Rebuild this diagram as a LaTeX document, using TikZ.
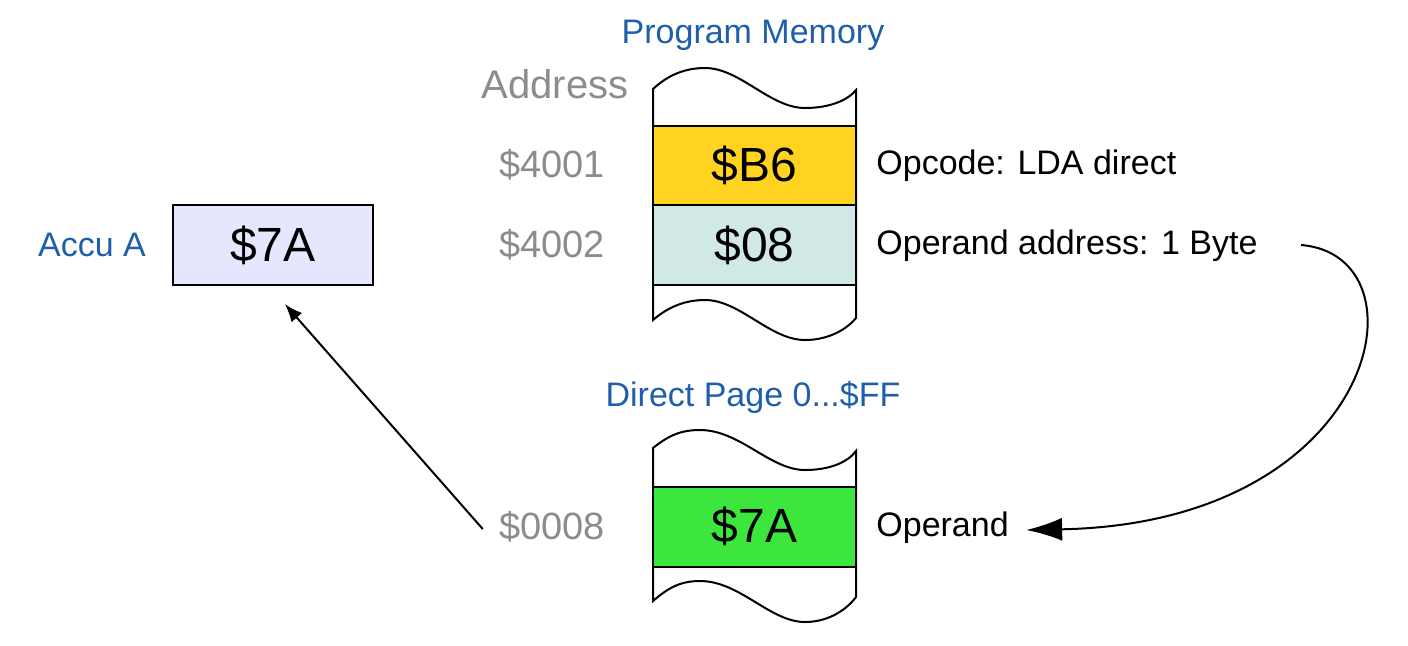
\documentclass[tikz,border=0pt]{standalone}
\usepackage{fontspec}
\setmainfont{Liberation Sans}
\usetikzlibrary{arrows.meta, calc, positioning}
\definecolor{titleblue}{HTML}{1F5FAA}
\definecolor{addrgray}{HTML}{8C8C8C}
\definecolor{opyellow}{HTML}{FFD320}
\definecolor{opteal}{HTML}{D0E8E6}
\definecolor{valgreen}{HTML}{3CE63C}
\definecolor{accufill}{HTML}{E6E6FF}
\tikzstyle{memcol} = [draw=black, line width=1pt, fill=white]
\tikzstyle{cell} = [rectangle, draw=black, line width=1pt, minimum width=101.5pt, minimum height=40pt, text centered, font=\fontsize{24}{28}\selectfont]
\tikzstyle{title} = [text=titleblue, inner sep=3pt, font=\fontsize{17}{20}\selectfont]
\tikzstyle{addr} = [text=addrgray, inner sep=3pt, font=\fontsize{19}{22}\selectfont]
\tikzstyle{desc} = [anchor=west, inner sep=3pt, font=\fontsize{17}{20}\selectfont]
\tikzstyle{arrow} = [line width=1pt, -{Latex[length=9pt, width=7pt]}]
\tikzstyle{bigarrow} = [line width=1pt, -{Latex[length=18pt, width=11.5pt]}]

\begin{document}
\begin{tikzpicture}[x=0.5pt, y=-0.5pt]
	\useasboundingbox (0,0) rectangle (1408,645);
	% memory columns with wavy ends
	\draw [memcol] (653,89) .. controls (668,75) and (685,68) .. (705,68) .. controls (740,68) and (770,108) .. (805,108) .. controls (830,108) and (848,100) .. (856,90)
		-- (856,318) .. controls (848,328) and (830,340) .. (805,340) .. controls (770,340) and (740,300) .. (705,300) .. controls (685,300) and (668,307) .. (653,320) -- cycle;
	\draw [memcol] (653,448) .. controls (668,436) and (680,430) .. (700,430) .. controls (740,430) and (770,470) .. (805,470) .. controls (830,470) and (848,462) .. (856,451)
		-- (856,597) .. controls (848,608) and (830,622) .. (805,622) .. controls (770,622) and (740,581) .. (700,581) .. controls (680,581) and (668,588) .. (653,601) -- cycle;
	% cells
	\node (CellOpcode) [cell, fill=opyellow] at (754.5,165.5) {\$B6};
	\node (CellAddr) [cell, fill=opteal] at (754.5,245) {\$08};
	\node (CellOperand) [cell, fill=valgreen] at (754.5,526.5) {\$7A};
	\node (Accu) [cell, fill=accufill, minimum width=100pt] at (273,245) {\$7A};
	% titles and labels
	\node (ProgMem) [title] at (753,35) {Program Memory};
	\node (DirectPage) [title] at (753,397) {Direct Page 0...\$FF};
	\node (AccuName) [title] at (92,245) {Accu A};
	\node (AddrHead) [addr, font=\fontsize{20}{24}\selectfont] at (555,84) {Address};
	\node (Addr1) [addr] at (552,165) {\$4001};
	\node (Addr2) [addr] at (552,245) {\$4002};
	\node (Addr3) [addr] at (552,527) {\$0008};
	\node (Desc1) [desc] at (870,166) {Opcode: LDA direct};
	\node (Desc2) [desc] at (870,246) {Operand address: 1 Byte};
	\node (Desc3) [desc] at (870,528) {Operand};
	% arrows
	\draw [arrow, shorten >=12pt] ([xshift=-5pt,yshift=-1pt]Addr3.west) -- ([xshift=-2pt]Accu.south);
	\draw [bigarrow] ([xshift=18.5pt,yshift=0.5pt]Desc2.east) .. controls +(130,10) and +(355,-7) .. ([xshift=5.5pt,yshift=-1pt]Desc3.east);
\end{tikzpicture}
\end{document}
